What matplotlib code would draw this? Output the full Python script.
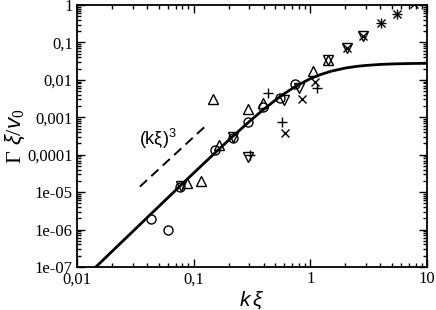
import matplotlib
matplotlib.use("Agg")
import matplotlib.pyplot as plt
from matplotlib.ticker import LogLocator, FuncFormatter, NullFormatter

# values
circle_k = [0.043, 0.060, 0.077, 0.154, 0.216, 0.29, 0.397, 0.554, 0.745]
circle_g = [1.9e-6, 1.0e-6, 1.4e-5, 1.34e-4, 2.8e-4, 7.5e-4, 1.9e-3, 3.3e-3, 7.8e-3]

up_k = [0.087, 0.115, 0.148, 0.164, 0.295, 0.397, 1.06, 1.43]
up_g = [1.8e-5, 2.0e-5, 3.1e-3, 1.8e-4, 1.7e-3, 2.4e-3, 0.0173, 0.034]

down_k = [0.078, 0.216, 0.295, 0.60, 0.805, 1.43, 2.07, 2.84]
down_g = [1.45e-5, 2.9e-4, 8.7e-5, 2.9e-3, 6.1e-3, 0.034, 0.071, 0.149]

plus_k = [0.307, 0.438, 0.577, 1.15, 4.04, 5.54]
plus_g = [9.8e-5, 4.5e-3, 7.5e-4, 6.1e-3, 0.33, 0.575]

cross_k = [0.611, 0.854, 1.10, 2.07, 2.84, 4.04, 5.54, 7.74]
cross_g = [3.8e-4, 3.1e-3, 8.8e-3, 0.071, 0.149, 0.33, 0.575, 1.06]

# solid theory curve, read at points along it
curve_k = [0.014, 0.02, 0.03, 0.05, 0.07, 0.1, 0.15, 0.2, 0.3, 0.4, 0.5, 0.6,
           0.7, 0.8, 1.0, 1.2, 1.5, 2.0, 2.5, 3.0, 4.0, 5.0, 7.0, 10.0]
curve_g = [9.0e-8, 2.62e-7, 8.84e-7, 4.08e-6, 1.116e-5, 3.23e-5, 1.067e-4,
           2.458e-4, 7.68e-4, 1.643e-3, 2.839e-3, 4.278e-3, 5.864e-3, 7.506e-3,
           0.010699, 0.013527, 0.016918, 0.020671, 0.022907, 0.024296,
           0.025821, 0.026582, 0.027274, 0.027658]

# dashed (k xi)^3 guide
guide_k = [0.0346, 0.132]
guide_g = [1.4e-5, 6.6e-4]

y_labels = {1: "1", 0.1: "0,1", 0.01: "0,01", 0.001: "0,001", 1e-4: "0,0001",
            1e-5: "1e-05", 1e-6: "1e-06", 1e-7: "1e-07"}
x_labels = {0.01: "0,01", 0.1: "0,1", 1: "1", 10: "10"}

plt.rcParams['font.family'] = 'Liberation Serif'
plt.rcParams['mathtext.fontset'] = 'custom'
plt.rcParams['mathtext.rm'] = 'Liberation Serif'
plt.rcParams['mathtext.it'] = 'Liberation Sans:italic'
plt.rcParams['mathtext.sf'] = 'Liberation Sans'

fig = plt.figure(figsize=(4.36, 3.10), dpi=100)
ax = fig.add_axes([0.1766, 0.1387, 0.8024, 0.8452])

ax.plot(curve_k, curve_g, color='black', lw=2.0, zorder=3)
ax.plot(guide_k, guide_g, color='black', lw=1.4, dashes=(5, 3))

mk = dict(linestyle='none', color='black', mfc='none', mew=1.0, ms=6.5)
ax.plot(circle_k, circle_g, marker='o', **mk)
ax.plot(up_k, up_g, marker='^', **mk)
ax.plot(down_k, down_g, marker='v', **mk)
ax.plot(plus_k, plus_g, marker='+', **dict(mk, ms=7.5))
ax.plot(cross_k, cross_g, marker='x', **dict(mk, ms=6))

ax.set_xscale('log')
ax.set_yscale('log')
ax.set_xlim(0.01, 10)
ax.set_ylim(1e-7, 1)

ax.xaxis.set_major_locator(LogLocator(base=10, numticks=10))
ax.xaxis.set_minor_locator(LogLocator(base=10, subs=range(2, 10), numticks=10))
ax.yaxis.set_major_locator(LogLocator(base=10, numticks=12))
ax.yaxis.set_minor_locator(LogLocator(base=10, subs=range(2, 10), numticks=12))


def fmt(table):
    def f(v, pos):
        for key, lab in table.items():
            if abs(v - key) / key < 1e-6:
                return lab
        return ""
    return f


ax.xaxis.set_major_formatter(FuncFormatter(fmt(x_labels)))
ax.yaxis.set_major_formatter(FuncFormatter(fmt(y_labels)))
ax.xaxis.set_minor_formatter(NullFormatter())
ax.yaxis.set_minor_formatter(NullFormatter())

ax.tick_params(which='both', direction='in', top=True, right=True,
               labelsize=12, width=1.0)
ax.tick_params(which='major', length=6, pad=3)
ax.tick_params(which='minor', length=3)
for s in ax.spines.values():
    s.set_linewidth(1.3)

ax.set_xlabel(r'$k\,\xi$', fontsize=15, labelpad=1)
ax.set_ylabel(r'$\Gamma\ \mathit{\xi/v_0}$', fontsize=16, labelpad=0)

ax.text(0.034, 1.8e-4, r'$\mathsf{(k\xi)^3}$', fontsize=13)

fig.savefig('out.png', dpi=100)
